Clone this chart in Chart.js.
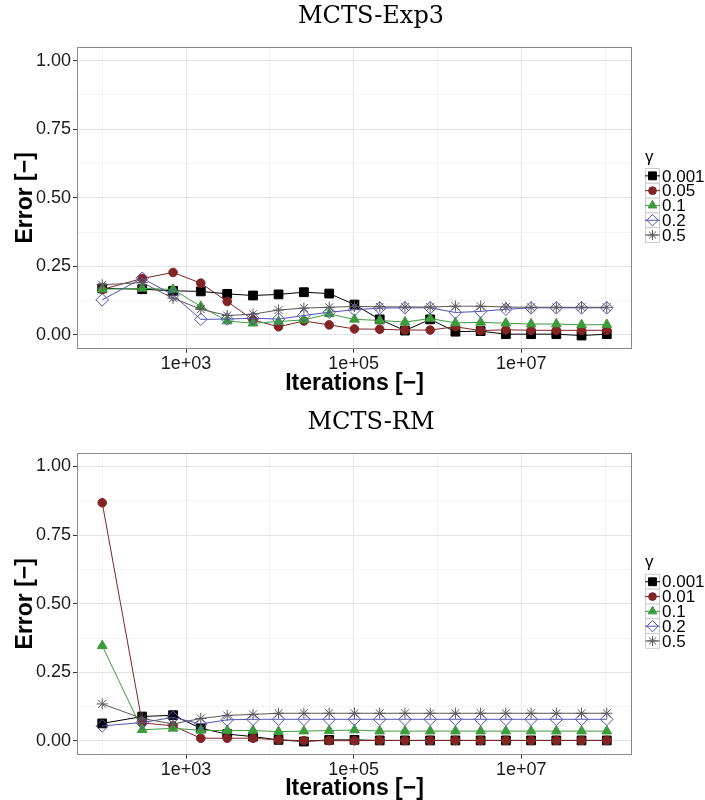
<!DOCTYPE html>
<html>
<head>
<meta charset="utf-8">
<title>MCTS error vs iterations</title>
<script src="https://cdn.jsdelivr.net/npm/chart.js@4.4.1/dist/chart.umd.min.js"></script>
<style>
  html, body { margin: 0; padding: 0; background: #fff; }
  body { width: 705px; height: 800px; position: relative; overflow: hidden; }
  canvas { position: absolute; left: 0; }
  #exp3 { top: 0; }
  #rm { top: 400px; }
</style>
</head>
<body>
<canvas id="exp3" width="705" height="400"></canvas>
<canvas id="rm" width="705" height="405"></canvas>
<script>
    // iterations on the x axis (same for both panels)
    const iterations = [100, 300, 700, 1500, 3100, 6300, 12700, 25500, 51100, 102300,
        204700, 409500, 819100, 1638300, 3276700, 6553500, 13107100, 26214300, 52428700, 104857500];

    // MCTS-Exp3 error, one array per gamma
    const exp3Gammas = ['0.001', '0.05', '0.1', '0.2', '0.5'];
    const exp3G0001 = [0.170, 0.167, 0.161, 0.159, 0.150, 0.144, 0.148, 0.156, 0.151, 0.111,
        0.057, 0.016, 0.057, 0.012, 0.014, 0.003, 0.003, 0.003, -0.002, 0.003];
    const exp3G005 = [0.166, 0.206, 0.228, 0.189, 0.122, 0.055, 0.030, 0.051, 0.037, 0.022,
        0.021, 0.018, 0.018, 0.030, 0.016, 0.019, 0.017, 0.017, 0.017, 0.017];
    const exp3G01 = [0.167, 0.170, 0.166, 0.104, 0.051, 0.043, 0.049, 0.055, 0.077, 0.057,
        0.053, 0.047, 0.060, 0.044, 0.046, 0.043, 0.040, 0.040, 0.037, 0.038];
    const exp3G02 = [0.128, 0.207, 0.146, 0.057, 0.058, 0.061, 0.058, 0.071, 0.083, 0.092,
        0.098, 0.099, 0.099, 0.082, 0.086, 0.094, 0.099, 0.099, 0.099, 0.099];
    const exp3G05 = [0.183, 0.191, 0.134, 0.094, 0.071, 0.076, 0.091, 0.098, 0.101, 0.104,
        0.103, 0.102, 0.102, 0.105, 0.105, 0.102, 0.101, 0.101, 0.101, 0.101];

    // MCTS-RM error, one array per gamma
    const rmGammas = ['0.001', '0.01', '0.1', '0.2', '0.5'];
    const rmG0001 = [0.064, 0.089, 0.094, 0.046, 0.025, 0.016, 0.004, -0.002, 0.004, 0.004,
        0.002, 0.002, 0.002, 0.002, 0.002, 0.002, 0.002, 0.002, 0.002, 0.002];
    const rmG001 = [0.868, 0.066, 0.055, 0.010, 0.010, 0.010, 0.004, 0.001, 0.001, 0.001,
        0.002, 0.002, 0.002, 0.002, 0.002, 0.002, 0.002, 0.002, 0.002, 0.002];
    const rmG01 = [0.347, 0.041, 0.046, 0.039, 0.038, 0.038, 0.034, 0.036, 0.038, 0.040,
        0.036, 0.036, 0.036, 0.036, 0.036, 0.036, 0.036, 0.036, 0.036, 0.036];
    const rmG02 = [0.055, 0.067, 0.086, 0.062, 0.077, 0.079, 0.079, 0.079, 0.079, 0.079,
        0.079, 0.079, 0.079, 0.079, 0.079, 0.079, 0.079, 0.079, 0.079, 0.079];
    const rmG05 = [0.135, 0.082, 0.062, 0.082, 0.093, 0.097, 0.101, 0.101, 0.101, 0.101,
        0.101, 0.101, 0.101, 0.101, 0.101, 0.101, 0.101, 0.101, 0.101, 0.101];

    // axis breaks (labelled ones get a tick mark, the rest are minor grid only)
    const xBreaks = [1e2, 1e3, 1e4, 1e5, 1e6, 1e7, 1e8];
    const xLabelled = [1e3, 1e5, 1e7];
    const yBreaks = [0, 0.125, 0.25, 0.375, 0.5, 0.625, 0.75, 0.875, 1];

    // marker per gamma, in legend order
    const markers = [
        { color: '#000000', pointStyle: 'rect', radius: 6.2, filled: true },
        { color: '#822424', pointStyle: 'circle', radius: 4.3, filled: true },
        { color: '#3d9b3d', pointStyle: 'triangle', radius: 5.6, filled: true },
        { color: '#5252b3', pointStyle: 'rectRot', radius: 6.3, filled: false },
        { color: '#595959', pointStyle: 'star', radius: 5.6, filled: false }
    ];

    const sans = 'Liberation Sans';
    const isMajorY = v => Math.abs(v * 4 - Math.round(v * 4)) < 1e-9;
    const isMajorX = v => xLabelled.some(b => Math.abs(b - v) / b < 1e-9);

    // serif title above each panel
    const panelTitle = {
        id: 'panelTitle',
        afterDraw(chart, args, opts) {
            const { ctx } = chart;
            ctx.save();
            ctx.font = '24px "DejaVu Serif"';
            ctx.fillStyle = '#000';
            ctx.textAlign = 'center';
            ctx.textBaseline = 'middle';
            ctx.fillText(opts.text, 371, opts.y);
            ctx.restore();
        }
    };

    // panel border on all four sides
    const panelFrame = {
        id: 'panelFrame',
        afterDraw(chart) {
            const { ctx, chartArea: a } = chart;
            ctx.save();
            ctx.strokeStyle = '#8a8a8a';
            ctx.lineWidth = 1;
            ctx.strokeRect(Math.round(a.left) + 0.5, Math.round(a.top) + 0.5,
                Math.round(a.right - a.left) - 1, Math.round(a.bottom - a.top) - 1);
            ctx.restore();
        }
    };

    // gamma legend to the right of the panel
    const gammaLegend = {
        id: 'gammaLegend',
        afterDraw(chart) {
            const { ctx, chartArea: a } = chart;
            const cy = (a.top + a.bottom) / 2;
            const x0 = 645, kw = 15, kh = 14.8;
            ctx.save();
            ctx.font = `17px "${sans}"`;
            ctx.textBaseline = 'middle';
            ctx.textAlign = 'left';
            ctx.fillStyle = '#000';
            ctx.fillText('γ', x0, cy - 41);
            chart.data.datasets.forEach((ds, i) => {
                const y = cy - 22 + i * kh;
                ctx.fillStyle = '#ffffff';
                ctx.fillRect(x0, y - kh / 2, kw, kh);
                ctx.strokeStyle = '#cccccc';
                ctx.lineWidth = 1;
                ctx.strokeRect(x0 + 0.5, y - kh / 2, kw - 1, kh);
                ctx.strokeStyle = ds.borderColor;
                ctx.beginPath();
                ctx.moveTo(x0, y);
                ctx.lineTo(x0 + kw, y);
                ctx.stroke();
                ctx.fillStyle = ds.pointBackgroundColor;
                ctx.strokeStyle = ds.pointBorderColor;
                Chart.helpers.drawPoint(ctx, {
                    pointStyle: ds.pointStyle, rotation: 0,
                    radius: ds.pointRadius * 0.9, borderWidth: 1
                }, x0 + kw / 2, y);
                ctx.fillStyle = '#000';
                ctx.fillText(ds.label, x0 + kw + 2, y + 1);
            });
            ctx.restore();
        }
    };

    function makePanel(id, title, gammas, series, box) {
        const datasets = series.map((vals, i) => ({
            label: gammas[i],
            data: iterations.map((x, j) => ({ x: x, y: vals[j] })),
            borderColor: markers[i].color,
            borderWidth: 1,
            pointStyle: markers[i].pointStyle,
            pointRadius: markers[i].radius,
            pointBorderWidth: 1,
            pointBorderColor: markers[i].color,
            pointBackgroundColor: markers[i].filled ? markers[i].color : 'rgba(0,0,0,0)',
            fill: false,
            tension: 0,
            order: series.length - i
        }));

        new Chart(document.getElementById(id), {
            type: 'line',
            data: { datasets },
            options: {
                responsive: false,
                animation: false,
                devicePixelRatio: 1,
                layout: { padding: { left: 0, right: 73, top: box.top, bottom: 0 } },
                plugins: {
                    legend: { display: false },
                    tooltip: { enabled: false },
                    panelTitle: { text: title, y: box.titleY }
                },
                scales: {
                    x: {
                        type: 'logarithmic',
                        min: 50,
                        max: 2.097e8,
                        afterBuildTicks: axis => { axis.ticks = xBreaks.map(v => ({ value: v })); },
                        afterFit: axis => { axis.height = box.xHeight; },
                        border: { display: false },
                        grid: {
                            color: c => c.tick && isMajorX(c.tick.value) ? '#e4e4e4' : '#f3f3f3',
                            tickColor: c => c.tick && isMajorX(c.tick.value) ? '#333' : 'rgba(0,0,0,0)',
                            tickLength: 4
                        },
                        ticks: {
                            autoSkip: false,
                            maxRotation: 0,
                            padding: 1,
                            color: '#1a1a1a',
                            font: { family: sans, size: 18 },
                            callback: v => {
                                if (!isMajorX(v)) return '';
                                return '1e+' + String(Math.round(Math.log10(v))).padStart(2, '0');
                            }
                        },
                        title: {
                            display: true,
                            text: 'Iterations [−]',
                            color: '#000',
                            font: { family: sans, size: 23, weight: 'bold', lineHeight: 1.2 },
                            padding: { top: 0, bottom: 3 }
                        }
                    },
                    y: {
                        min: -0.05,
                        max: 1.05,
                        afterBuildTicks: axis => { axis.ticks = yBreaks.map(v => ({ value: v })); },
                        afterFit: axis => { axis.width = 77; },
                        border: { display: false },
                        grid: {
                            color: c => c.tick && isMajorY(c.tick.value) ? '#e4e4e4' : '#f3f3f3',
                            tickColor: c => c.tick && isMajorY(c.tick.value) ? '#333' : 'rgba(0,0,0,0)',
                            tickLength: 4
                        },
                        ticks: {
                            padding: 2,
                            color: '#1a1a1a',
                            font: { family: sans, size: 18 },
                            callback: v => isMajorY(v) ? v.toFixed(2) : ''
                        },
                        title: {
                            display: true,
                            text: 'Error [−]',
                            color: '#000',
                            font: { family: sans, size: 23, weight: 'bold', lineHeight: 1.2 },
                            padding: { top: 12, bottom: 0 }
                        }
                    }
                }
            },
            plugins: [panelTitle, panelFrame, gammaLegend]
        });
    }

    window.addEventListener('DOMContentLoaded', () => {
        makePanel('exp3', 'MCTS-Exp3', exp3Gammas,
            [exp3G0001, exp3G005, exp3G01, exp3G02, exp3G05],
            { top: 47, titleY: 17, xHeight: 51.3 });

        makePanel('rm', 'MCTS-RM', rmGammas,
            [rmG0001, rmG001, rmG01, rmG02, rmG05],
            { top: 52.8, titleY: 23, xHeight: 50.3 });
    });
</script>
</body>
</html>
